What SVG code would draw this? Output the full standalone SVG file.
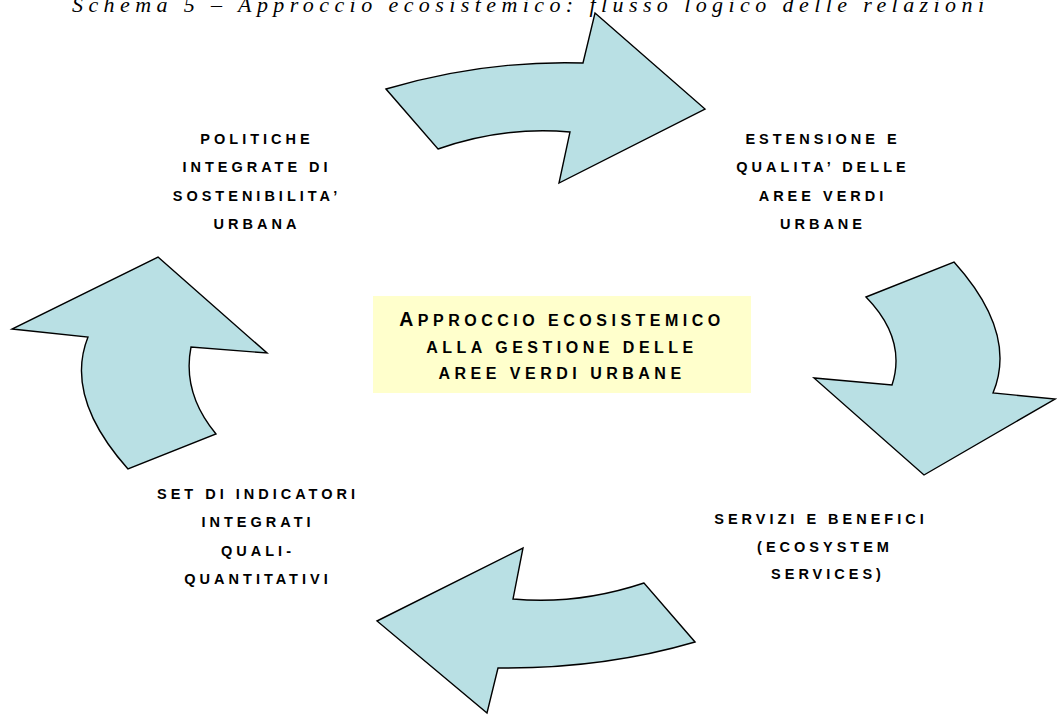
<svg xmlns="http://www.w3.org/2000/svg" width="1057" height="715" viewBox="0 0 1057 715">
<style>
.arrow{fill:#B9E0E4;stroke:#000;stroke-width:1.4;stroke-linejoin:miter}
.lbl{font-family:"Liberation Sans",Arial,sans-serif;font-weight:bold;font-size:14.5px;letter-spacing:4px;text-anchor:middle;fill:#000}
.ctr{font-family:"Liberation Sans",Arial,sans-serif;font-weight:bold;font-size:16px;letter-spacing:4.5px;text-anchor:middle;fill:#000}
.title{font-family:"Liberation Serif","Times New Roman",serif;font-style:italic;font-size:22px;fill:#000}
</style>
<rect width="1057" height="715" fill="#fff"/>
<text class="title" x="72" y="12" textLength="912" lengthAdjust="spacing">Schema 5 – Approccio ecosistemico: flusso logico delle relazioni</text>
<g id="connectors">
<path class="arrow" d="M386,89 Q484,60 583,63 L595,13 L705,109 L559,183 L570,132 Q504,126 438,149 Z"/>
<path class="arrow" d="M866,297 L954,262 Q1018,333 993,393 L1055,399 L924,475 L814,378 L892,385 Q907,339 866,297 Z"/>
<path class="arrow" d="M377,621 L523,548 L513,599 Q578,605 644,583 L695,642 Q603,669 498,668 L487,713 Z"/>
<path class="arrow" d="M158,257 L267,353 L191,347 Q182,393 216,434 L128,469 Q64,397 88,337 L12,329 Z"/>
</g>
<g id="center">
<rect x="373" y="296" width="378" height="97" fill="#FFFFCC"/>
<text class="ctr" x="562" y="326"><tspan font-size="19.5px">A</tspan>PPROCCIO ECOSISTEMICO</text>
<text class="ctr" x="562" y="353">ALLA GESTIONE DELLE</text>
<text class="ctr" x="562" y="379">AREE VERDI URBANE</text>
</g>
<g id="node-politiche">
<text class="lbl" x="257" y="144">POLITICHE</text>
<text class="lbl" x="257" y="172">INTEGRATE DI</text>
<text class="lbl" x="257" y="201">SOSTENIBILITA’</text>
<text class="lbl" x="257" y="229">URBANA</text>
</g>
<g id="node-estensione">
<text class="lbl" x="823" y="144">ESTENSIONE E</text>
<text class="lbl" x="823" y="172">QUALITA’ DELLE</text>
<text class="lbl" x="823" y="201">AREE VERDI</text>
<text class="lbl" x="823" y="229">URBANE</text>
</g>
<g id="node-servizi">
<text class="lbl" x="821" y="524">SERVIZI E BENEFICI</text>
<text class="lbl" x="825" y="552">(ECOSYSTEM</text>
<text class="lbl" x="828" y="579">SERVICES)</text>
</g>
<g id="node-indicatori">
<text class="lbl" x="258" y="499">SET DI INDICATORI</text>
<text class="lbl" x="258" y="527">INTEGRATI</text>
<text class="lbl" x="258" y="556">QUALI-</text>
<text class="lbl" x="258" y="584">QUANTITATIVI</text>
</g>
</svg>
